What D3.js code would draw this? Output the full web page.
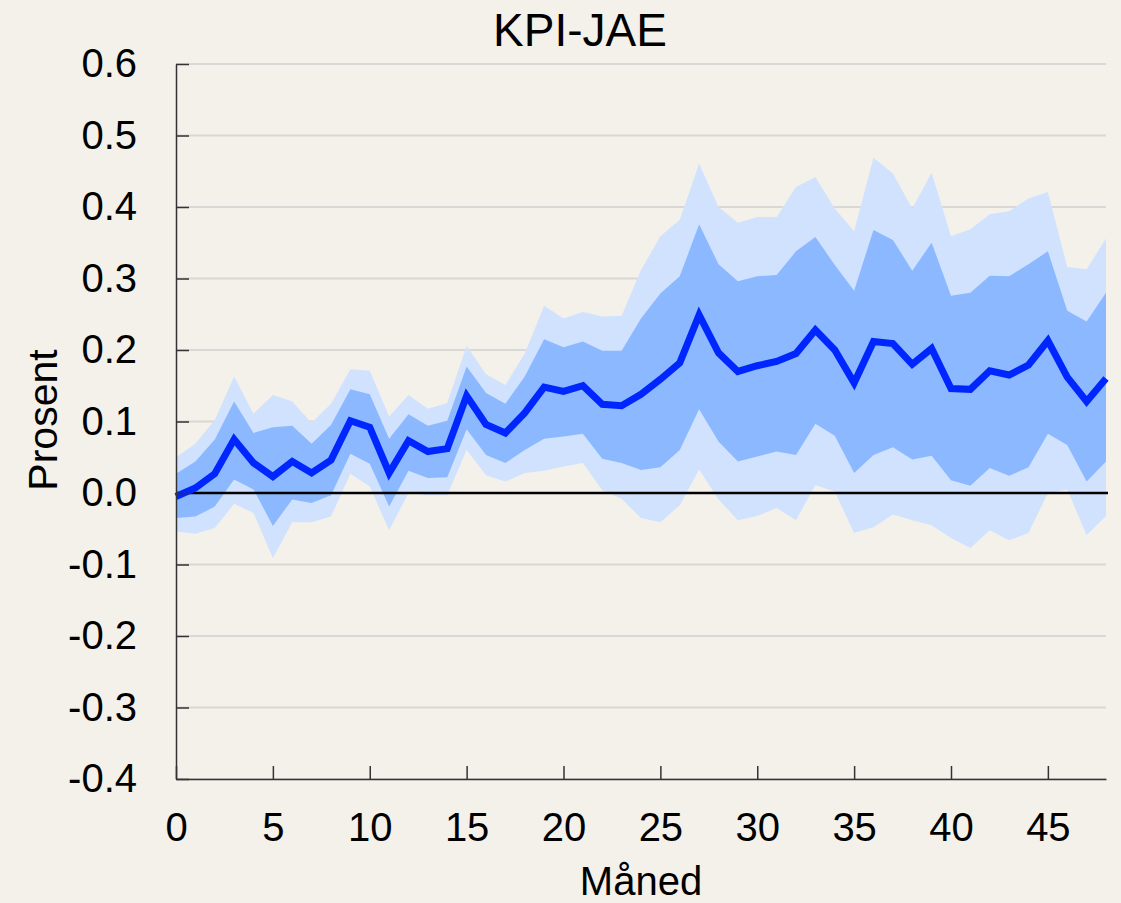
<!DOCTYPE html>
<html>
<head>
<meta charset="utf-8">
<script src="https://cdn.jsdelivr.net/npm/d3@7"></script>
<style>
  body { margin: 0; background: #f4f1ea; }
  text { font-family: "Liberation Sans", Arial, sans-serif; fill: #000; }
</style>
</head>
<body>
<div id="chart"></div>
<script>
// months after shock
const months = [0, 1, 2, 3, 4, 5, 6, 7, 8, 9, 10, 11, 12, 13, 14, 15, 16, 17, 18, 19, 20, 21, 22, 23, 24,
  25, 26, 27, 28, 29, 30, 31, 32, 33, 34, 35, 36, 37, 38, 39, 40, 41, 42, 43, 44, 45, 46, 47, 48];

const median = [-0.005, 0.007, 0.027, 0.075, 0.042, 0.023, 0.044, 0.028, 0.046, 0.101, 0.092, 0.028, 0.073,
  0.058, 0.062, 0.136, 0.096, 0.084, 0.112, 0.148, 0.142, 0.150, 0.124, 0.122, 0.138, 0.159, 0.182, 0.249,
  0.196, 0.170, 0.178, 0.184, 0.195, 0.228, 0.200, 0.154, 0.212, 0.209, 0.180, 0.202, 0.146, 0.145, 0.171,
  0.165, 0.179, 0.213, 0.162, 0.128, 0.160];

const innerHigh = [0.027, 0.044, 0.075, 0.128, 0.084, 0.092, 0.094, 0.069, 0.095, 0.145, 0.138, 0.076, 0.110,
  0.094, 0.101, 0.177, 0.140, 0.125, 0.163, 0.215, 0.204, 0.212, 0.199, 0.199, 0.244, 0.279, 0.303, 0.376,
  0.320, 0.296, 0.303, 0.305, 0.338, 0.358, 0.319, 0.283, 0.368, 0.354, 0.311, 0.350, 0.276, 0.280, 0.304,
  0.303, 0.320, 0.338, 0.255, 0.240, 0.280];

const innerLow = [-0.035, -0.033, -0.019, 0.019, 0.005, -0.046, -0.009, -0.014, -0.003, 0.055, 0.041, -0.019, 0.031,
  0.021, 0.022, 0.089, 0.053, 0.042, 0.060, 0.076, 0.079, 0.083, 0.048, 0.042, 0.032, 0.036, 0.060, 0.117,
  0.072, 0.044, 0.051, 0.058, 0.053, 0.097, 0.080, 0.028, 0.053, 0.064, 0.047, 0.052, 0.018, 0.010, 0.035,
  0.024, 0.036, 0.083, 0.067, 0.016, 0.044];

const outerHigh = [0.050, 0.069, 0.102, 0.163, 0.111, 0.137, 0.128, 0.098, 0.125, 0.173, 0.171, 0.107, 0.137,
  0.118, 0.126, 0.206, 0.166, 0.151, 0.195, 0.262, 0.244, 0.253, 0.247, 0.248, 0.312, 0.359, 0.382, 0.461,
  0.400, 0.378, 0.386, 0.386, 0.428, 0.442, 0.398, 0.366, 0.469, 0.447, 0.398, 0.448, 0.359, 0.369, 0.390,
  0.394, 0.412, 0.421, 0.316, 0.313, 0.356];

const outerLow = [-0.054, -0.057, -0.049, -0.015, -0.028, -0.091, -0.041, -0.041, -0.033, 0.027, 0.009, -0.052, 0.000,
  -0.003, -0.003, 0.060, 0.025, 0.016, 0.028, 0.031, 0.037, 0.042, 0.004, -0.008, -0.035, -0.041, -0.017, 0.033,
  -0.009, -0.038, -0.032, -0.021, -0.038, 0.011, 0.002, -0.056, -0.048, -0.030, -0.038, -0.045, -0.063, -0.077, -0.052,
  -0.066, -0.056, 0.000, 0.005, -0.059, -0.032];

const yTicks = [-0.4, -0.3, -0.2, -0.1, 0.0, 0.1, 0.2, 0.3, 0.4, 0.5, 0.6];
const xTicks = [0, 5, 10, 15, 20, 25, 30, 35, 40, 45];

const width = 1121;
const height = 903;
const margin = { top: 64, right: 15, bottom: 124, left: 176 };

const svg = d3.select("#chart")
  .append("svg")
  .attr("width", width)
  .attr("height", height);

svg.append("rect")
  .attr("width", width)
  .attr("height", height)
  .attr("fill", "#f4f1ea");

const x = d3.scaleLinear()
  .domain([0, 48])
  .range([margin.left, width - margin.right]);

const y = d3.scaleLinear()
  .domain([-0.4, 0.6])
  .range([height - margin.bottom, margin.top]);

// gridlines
svg.append("g")
  .selectAll("line")
  .data(yTicks)
  .enter()
  .append("line")
  .attr("x1", x(0))
  .attr("x2", x(48))
  .attr("y1", d => y(d))
  .attr("y2", d => y(d))
  .attr("stroke", "#d9d8d6")
  .attr("stroke-width", 2);

const rows = months.map((m, i) => ({
  m: m,
  med: median[i],
  iLo: innerLow[i], iHi: innerHigh[i],
  oLo: outerLow[i], oHi: outerHigh[i]
}));

// fan bands
svg.append("path")
  .datum(rows)
  .attr("fill", "#d0e2fe")
  .attr("d", d3.area().x(d => x(d.m)).y0(d => y(d.oLo)).y1(d => y(d.oHi)));

svg.append("path")
  .datum(rows)
  .attr("fill", "#8cb8ff")
  .attr("d", d3.area().x(d => x(d.m)).y0(d => y(d.iLo)).y1(d => y(d.iHi)));

// zero line
svg.append("line")
  .attr("x1", x(0))
  .attr("x2", x(48) + 2)
  .attr("y1", y(0))
  .attr("y2", y(0))
  .attr("stroke", "#000")
  .attr("stroke-width", 2.5);

// median line
svg.append("path")
  .datum(rows)
  .attr("fill", "none")
  .attr("stroke", "#0026ff")
  .attr("stroke-width", 7)
  .attr("stroke-linejoin", "miter")
  .attr("d", d3.line().x(d => x(d.m)).y(d => y(d.med)));

// axes
const yAxis = svg.append("g")
  .attr("transform", `translate(${margin.left},0)`)
  .call(d3.axisLeft(y)
    .tickValues(yTicks)
    .tickFormat(d => d.toFixed(1))
    .tickSize(-13)
    .tickSizeOuter(0)
    .tickPadding(39));

const xAxis = svg.append("g")
  .attr("transform", `translate(0,${height - margin.bottom})`)
  .call(d3.axisBottom(x)
    .tickValues(xTicks)
    .tickSize(-13)
    .tickSizeOuter(0)
    .tickPadding(34));

[yAxis, xAxis].forEach(g => {
  g.select(".domain").attr("stroke", "#333").attr("stroke-width", 1.5);
  g.selectAll(".tick line").attr("stroke", "#333").attr("stroke-width", 1.5);
  g.selectAll(".tick text")
    .attr("font-size", 40)
    .attr("font-family", "Liberation Sans, Arial, sans-serif")
    .attr("fill", "#000");
});

// titles
svg.append("text")
  .attr("x", 580)
  .attr("y", 46)
  .attr("text-anchor", "middle")
  .attr("font-size", 46)
  .text("KPI-JAE");

svg.append("text")
  .attr("x", (x(0) + x(48)) / 2)
  .attr("y", 895)
  .attr("text-anchor", "middle")
  .attr("font-size", 40)
  .text("Måned");

svg.append("text")
  .attr("transform", "translate(57,420) rotate(-90)")
  .attr("text-anchor", "middle")
  .attr("font-size", 41)
  .text("Prosent");
</script>
</body>
</html>
